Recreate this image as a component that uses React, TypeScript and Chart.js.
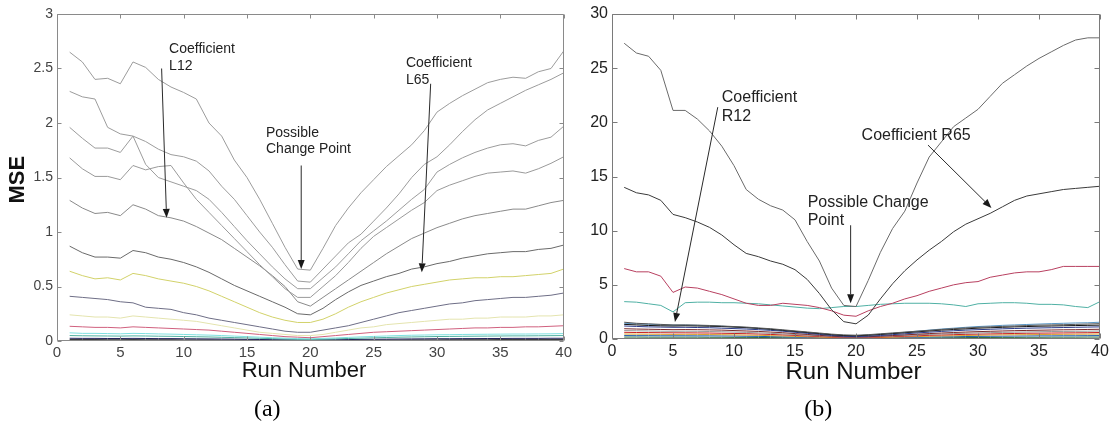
import React, { useEffect, useRef } from "react";
import { Chart, registerables } from "chart.js";

Chart.register(...registerables);

// ---------- categories / ticks ----------
const runNumbers = [1, 2, 3, 4, 5, 6, 7, 8, 9, 10, 11, 12, 13, 14, 15, 16, 17, 18, 19, 20, 21, 22, 23, 24, 25, 26, 27, 28, 29, 30, 31, 32, 33, 34, 35, 36, 37, 38, 39, 40];
const xTickValues = [0, 5, 10, 15, 20, 25, 30, 35, 40];
const leftYTickValues = [0, 0.5, 1, 1.5, 2, 2.5, 3];
const rightYTickValues = [0, 5, 10, 15, 20, 25, 30];

// ---------- panel (a): left coefficients ----------
const leftA = [2.65, 2.56, 2.40, 2.41, 2.36, 2.56, 2.51, 2.40, 2.33, 2.28, 2.22, 2.00, 1.88, 1.66, 1.50, 1.30, 1.08, 0.86, 0.66, 0.65, 0.85, 1.06, 1.22, 1.36, 1.48, 1.60, 1.70, 1.80, 1.93, 2.10, 2.18, 2.25, 2.31, 2.37, 2.40, 2.42, 2.41, 2.47, 2.50, 2.66];
const leftB = [2.29, 2.24, 2.22, 1.96, 1.90, 1.88, 1.83, 1.76, 1.71, 1.69, 1.65, 1.56, 1.42, 1.30, 1.15, 1.00, 0.86, 0.70, 0.55, 0.54, 0.66, 0.78, 0.90, 0.98, 1.10, 1.22, 1.35, 1.50, 1.62, 1.69, 1.80, 1.92, 2.03, 2.12, 2.18, 2.24, 2.30, 2.35, 2.40, 2.46];
const leftC = [1.96, 1.86, 1.77, 1.77, 1.73, 1.88, 1.62, 1.50, 1.46, 1.42, 1.38, 1.30, 1.18, 1.05, 0.92, 0.80, 0.68, 0.57, 0.48, 0.48, 0.58, 0.68, 0.80, 0.92, 1.01, 1.10, 1.20, 1.30, 1.39, 1.55, 1.62, 1.68, 1.73, 1.77, 1.80, 1.81, 1.79, 1.84, 1.87, 1.97];
const leftD = [1.68, 1.58, 1.51, 1.51, 1.48, 1.61, 1.57, 1.60, 1.61, 1.45, 1.30, 1.18, 1.06, 0.94, 0.82, 0.70, 0.59, 0.48, 0.40, 0.40, 0.50, 0.60, 0.72, 0.85, 0.96, 1.04, 1.12, 1.20, 1.27, 1.38, 1.43, 1.47, 1.51, 1.54, 1.55, 1.56, 1.54, 1.58, 1.63, 1.69];
const leftE = [1.29, 1.22, 1.17, 1.18, 1.15, 1.25, 1.21, 1.15, 1.13, 1.10, 1.05, 0.99, 0.93, 0.85, 0.77, 0.69, 0.60, 0.50, 0.36, 0.32, 0.40, 0.48, 0.56, 0.64, 0.72, 0.80, 0.87, 0.94, 0.99, 1.04, 1.08, 1.12, 1.15, 1.17, 1.19, 1.21, 1.21, 1.24, 1.27, 1.29];
const leftF = [0.87, 0.81, 0.77, 0.77, 0.76, 0.83, 0.81, 0.77, 0.75, 0.72, 0.68, 0.63, 0.57, 0.51, 0.46, 0.41, 0.36, 0.31, 0.25, 0.24, 0.30, 0.38, 0.45, 0.51, 0.55, 0.59, 0.62, 0.66, 0.68, 0.71, 0.73, 0.76, 0.78, 0.80, 0.81, 0.82, 0.82, 0.84, 0.85, 0.88];
const leftG = [0.64, 0.60, 0.57, 0.58, 0.56, 0.62, 0.60, 0.57, 0.55, 0.53, 0.50, 0.46, 0.41, 0.36, 0.31, 0.26, 0.22, 0.19, 0.17, 0.17, 0.20, 0.25, 0.31, 0.36, 0.40, 0.44, 0.47, 0.50, 0.52, 0.54, 0.56, 0.57, 0.58, 0.58, 0.59, 0.59, 0.60, 0.61, 0.62, 0.66];
const leftH = [0.41, 0.40, 0.39, 0.38, 0.36, 0.35, 0.31, 0.30, 0.29, 0.26, 0.24, 0.21, 0.19, 0.17, 0.15, 0.13, 0.11, 0.09, 0.08, 0.08, 0.10, 0.12, 0.14, 0.17, 0.20, 0.23, 0.26, 0.28, 0.30, 0.32, 0.34, 0.35, 0.37, 0.38, 0.39, 0.40, 0.40, 0.41, 0.42, 0.44];
const leftI = [0.24, 0.23, 0.22, 0.22, 0.21, 0.23, 0.22, 0.21, 0.20, 0.19, 0.18, 0.16, 0.14, 0.12, 0.10, 0.08, 0.07, 0.06, 0.05, 0.05, 0.06, 0.08, 0.10, 0.12, 0.13, 0.15, 0.16, 0.17, 0.18, 0.19, 0.20, 0.20, 0.21, 0.21, 0.22, 0.22, 0.22, 0.23, 0.23, 0.24];
const leftJ = [0.135, 0.13, 0.125, 0.125, 0.12, 0.13, 0.125, 0.12, 0.115, 0.11, 0.105, 0.10, 0.09, 0.08, 0.07, 0.06, 0.05, 0.04, 0.035, 0.03, 0.04, 0.05, 0.06, 0.07, 0.08, 0.085, 0.09, 0.095, 0.10, 0.105, 0.11, 0.115, 0.12, 0.12, 0.125, 0.125, 0.13, 0.13, 0.135, 0.14];
const leftK = [0.075, 0.07, 0.07, 0.068, 0.066, 0.07, 0.068, 0.065, 0.063, 0.06, 0.057, 0.054, 0.05, 0.045, 0.04, 0.035, 0.03, 0.026, 0.022, 0.02, 0.024, 0.028, 0.033, 0.038, 0.042, 0.046, 0.05, 0.053, 0.055, 0.057, 0.058, 0.06, 0.061, 0.062, 0.063, 0.064, 0.064, 0.065, 0.066, 0.068];
const leftL = [0.05, 0.048, 0.047, 0.046, 0.045, 0.047, 0.046, 0.044, 0.043, 0.041, 0.039, 0.037, 0.034, 0.031, 0.028, 0.025, 0.022, 0.019, 0.016, 0.015, 0.017, 0.02, 0.023, 0.026, 0.029, 0.032, 0.035, 0.037, 0.039, 0.041, 0.042, 0.043, 0.044, 0.045, 0.046, 0.047, 0.047, 0.048, 0.049, 0.05];
const leftM = [0.025, 0.024, 0.024, 0.023, 0.023, 0.024, 0.023, 0.022, 0.022, 0.021, 0.02, 0.019, 0.018, 0.017, 0.015, 0.014, 0.012, 0.011, 0.01, 0.01, 0.011, 0.012, 0.013, 0.015, 0.016, 0.017, 0.018, 0.019, 0.02, 0.021, 0.021, 0.022, 0.022, 0.023, 0.023, 0.024, 0.024, 0.024, 0.025, 0.025];
const leftN = [0.012, 0.012, 0.012, 0.011, 0.011, 0.012, 0.011, 0.011, 0.011, 0.01, 0.01, 0.01, 0.009, 0.009, 0.008, 0.007, 0.006, 0.006, 0.005, 0.005, 0.006, 0.006, 0.007, 0.008, 0.008, 0.009, 0.009, 0.01, 0.01, 0.01, 0.011, 0.011, 0.011, 0.011, 0.012, 0.012, 0.012, 0.012, 0.012, 0.012];

// ---------- panel (b): right coefficients ----------
const rightA = [27.3, 26.4, 26.1, 24.8, 21.1, 21.1, 20.3, 19.2, 17.8, 16.0, 13.8, 12.9, 12.3, 11.9, 11.0, 9.0, 7.2, 4.7, 3.1, 3.0, 5.4, 8.0, 10.2, 11.8, 14.4, 16.8, 18.2, 19.6, 20.4, 21.2, 22.4, 23.6, 24.4, 25.2, 25.9, 26.5, 27.1, 27.6, 27.8, 27.8];
const rightB = [14.0, 13.5, 13.3, 12.8, 11.5, 11.2, 10.8, 10.3, 9.6, 8.7, 7.9, 7.6, 7.2, 6.9, 6.4, 5.5, 4.2, 2.7, 1.6, 1.4, 2.2, 3.7, 5.1, 6.3, 7.3, 8.2, 9.0, 9.9, 10.6, 11.1, 11.6, 12.2, 12.8, 13.2, 13.4, 13.6, 13.8, 13.9, 14.0, 14.1];
const rightC = [6.5, 6.2, 6.2, 5.8, 4.3, 4.8, 4.7, 4.4, 4.1, 3.7, 3.3, 3.1, 3.1, 3.3, 3.2, 3.1, 2.9, 2.6, 2.2, 2.1, 2.6, 3.0, 3.3, 3.7, 4.0, 4.4, 4.7, 5.0, 5.2, 5.3, 5.7, 5.9, 6.1, 6.2, 6.2, 6.4, 6.7, 6.7, 6.7, 6.7];
const rightD = [3.45, 3.4, 3.25, 3.1, 2.5, 3.35, 3.4, 3.4, 3.35, 3.35, 3.3, 3.25, 3.15, 3.05, 2.95, 2.85, 2.8, 2.9, 3.0, 3.0, 3.1, 3.2, 3.25, 3.3, 3.3, 3.3, 3.25, 3.15, 3.0, 3.25, 3.3, 3.35, 3.35, 3.3, 3.2, 3.2, 3.15, 3.0, 2.9, 3.45];
const rightE = [1.55, 1.45, 1.40, 1.35, 1.30, 1.30, 1.28, 1.25, 1.20, 1.15, 1.10, 1.02, 0.95, 0.85, 0.75, 0.65, 0.55, 0.45, 0.38, 0.35, 0.40, 0.48, 0.56, 0.64, 0.72, 0.80, 0.88, 0.95, 1.02, 1.08, 1.12, 1.16, 1.20, 1.24, 1.28, 1.30, 1.32, 1.35, 1.38, 1.42];
const rightF = [1.35, 1.30, 1.25, 1.22, 1.20, 1.22, 1.20, 1.18, 1.15, 1.10, 1.05, 0.98, 0.90, 0.80, 0.70, 0.60, 0.50, 0.40, 0.32, 0.30, 0.35, 0.42, 0.50, 0.58, 0.66, 0.74, 0.82, 0.88, 0.94, 1.00, 1.04, 1.08, 1.12, 1.15, 1.18, 1.20, 1.22, 1.24, 1.26, 1.28];
const rightG = [1.20, 1.16, 1.12, 1.10, 1.08, 1.08, 1.06, 1.04, 1.00, 0.96, 0.92, 0.86, 0.80, 0.72, 0.62, 0.52, 0.42, 0.32, 0.25, 0.22, 0.26, 0.32, 0.40, 0.48, 0.56, 0.63, 0.70, 0.76, 0.82, 0.86, 0.90, 0.94, 0.97, 1.00, 1.02, 1.04, 1.06, 1.08, 1.10, 1.12];
const rightH = [0.95, 0.92, 0.90, 0.88, 0.86, 0.87, 0.86, 0.84, 0.82, 0.78, 0.74, 0.70, 0.64, 0.58, 0.50, 0.42, 0.34, 0.26, 0.20, 0.18, 0.21, 0.26, 0.32, 0.38, 0.44, 0.50, 0.55, 0.60, 0.64, 0.68, 0.71, 0.74, 0.77, 0.79, 0.81, 0.83, 0.85, 0.86, 0.88, 0.90];
const rightI = [0.78, 0.76, 0.74, 0.72, 0.71, 0.72, 0.71, 0.69, 0.67, 0.64, 0.61, 0.57, 0.52, 0.47, 0.41, 0.35, 0.29, 0.23, 0.18, 0.16, 0.19, 0.23, 0.28, 0.33, 0.38, 0.42, 0.46, 0.50, 0.53, 0.56, 0.59, 0.61, 0.63, 0.65, 0.67, 0.69, 0.70, 0.71, 0.72, 0.74];
const rightJ = [0.62, 0.60, 0.59, 0.58, 0.57, 0.57, 0.56, 0.55, 0.53, 0.51, 0.49, 0.46, 0.42, 0.38, 0.33, 0.28, 0.23, 0.18, 0.14, 0.13, 0.15, 0.18, 0.22, 0.26, 0.30, 0.34, 0.37, 0.40, 0.43, 0.45, 0.47, 0.49, 0.51, 0.53, 0.54, 0.55, 0.56, 0.57, 0.58, 0.60];
const rightK = [0.46, 0.45, 0.44, 0.43, 0.42, 0.43, 0.42, 0.41, 0.40, 0.38, 0.36, 0.34, 0.31, 0.28, 0.24, 0.20, 0.17, 0.13, 0.10, 0.09, 0.11, 0.13, 0.16, 0.19, 0.22, 0.25, 0.28, 0.30, 0.32, 0.34, 0.36, 0.38, 0.39, 0.40, 0.41, 0.42, 0.43, 0.44, 0.45, 0.46];
const rightL = [0.32, 0.31, 0.31, 0.30, 0.30, 0.30, 0.29, 0.29, 0.28, 0.27, 0.25, 0.24, 0.22, 0.20, 0.17, 0.15, 0.12, 0.10, 0.08, 0.07, 0.08, 0.10, 0.12, 0.14, 0.16, 0.18, 0.20, 0.21, 0.23, 0.24, 0.25, 0.26, 0.27, 0.28, 0.29, 0.29, 0.30, 0.30, 0.31, 0.32];
const rightM = [0.18, 0.18, 0.17, 0.17, 0.17, 0.17, 0.17, 0.16, 0.16, 0.15, 0.15, 0.14, 0.13, 0.12, 0.10, 0.09, 0.08, 0.06, 0.05, 0.05, 0.05, 0.06, 0.07, 0.08, 0.09, 0.10, 0.11, 0.12, 0.13, 0.14, 0.14, 0.15, 0.15, 0.16, 0.16, 0.17, 0.17, 0.17, 0.18, 0.18];
const rightN = [1.45, 1.40, 1.36, 1.32, 1.28, 1.28, 1.26, 1.22, 1.18, 1.12, 1.06, 0.98, 0.90, 0.80, 0.70, 0.60, 0.50, 0.40, 0.33, 0.30, 0.36, 0.44, 0.52, 0.62, 0.72, 0.82, 0.92, 1.00, 1.08, 1.15, 1.20, 1.26, 1.30, 1.34, 1.38, 1.42, 1.45, 1.48, 1.50, 1.55];

const leftSeries: [number[], string][] = [
  [leftA, "#9c9c9c"], [leftB, "#9c9c9c"], [leftC, "#9c9c9c"], [leftD, "#9a9a9a"],
  [leftE, "#8a8a8a"], [leftF, "#6a6a6a"], [leftG, "#d2d26a"], [leftH, "#6e6e86"],
  [leftI, "#e4e4ae"], [leftJ, "#d0607e"], [leftK, "#7fe0e0"], [leftL, "#50b0a0"],
  [leftM, "#24245e"], [leftN, "#111111"],
];
const rightSeries: [number[], string][] = [
  [rightA, "#6a6a6a"], [rightB, "#3a3a3a"], [rightC, "#b84060"], [rightD, "#4fb0a4"],
  [rightE, "#555555"], [rightF, "#111111"], [rightG, "#2a3a8a"], [rightH, "#7a2a2a"],
  [rightI, "#999999"], [rightJ, "#c82020"], [rightK, "#d8a030"], [rightL, "#2060b0"],
  [rightM, "#2a6a3a"], [rightN, "#5a96c4"],
];

const framePlugin = {
  id: "matlabFrame",
  afterDraw(chart: any, _args: any, opts: any) {
    const { ctx, chartArea: a, scales } = chart;
    const xs = scales.x;
    const ys = scales.y;
    ctx.save();
    const L = Math.round(a.left) + 0.5;
    const R = Math.round(a.right) - 0.5;
    const T = Math.round(a.top) + 0.5;
    const B = Math.round(a.bottom) - 0.5;
    ctx.strokeStyle = opts.frameColor;
    ctx.lineWidth = 1;
    ctx.beginPath();
    ctx.rect(L, T, R - L, B - T);
    for (const t of opts.xTicks) {
      const px = Math.round(xs.getPixelForValue(t)) + 0.5;
      ctx.moveTo(px, B); ctx.lineTo(px, B - opts.tickLen);
      ctx.moveTo(px, T); ctx.lineTo(px, T + opts.tickLen);
    }
    for (const t of opts.yTicks) {
      const py = Math.round(ys.getPixelForValue(t)) + 0.5;
      ctx.moveTo(L, py); ctx.lineTo(L + opts.tickLen, py);
      ctx.moveTo(R, py); ctx.lineTo(R - opts.tickLen, py);
    }
    ctx.stroke();

    // arrows
    ctx.strokeStyle = "#2a2a2a";
    ctx.fillStyle = "#1a1a1a";
    for (const ar of opts.arrows) {
      const x1 = xs.getPixelForValue(ar.x1), y1 = ys.getPixelForValue(ar.y1);
      const x2 = xs.getPixelForValue(ar.x2), y2 = ys.getPixelForValue(ar.y2);
      const ang = Math.atan2(y2 - y1, x2 - x1);
      const hl = 9, hw = 3.5;
      const bx = x2 - hl * Math.cos(ang), by = y2 - hl * Math.sin(ang);
      ctx.beginPath(); ctx.moveTo(x1, y1); ctx.lineTo(bx, by); ctx.stroke();
      ctx.beginPath();
      ctx.moveTo(x2, y2);
      ctx.lineTo(bx + hw * Math.sin(ang), by - hw * Math.cos(ang));
      ctx.lineTo(bx - hw * Math.sin(ang), by + hw * Math.cos(ang));
      ctx.closePath(); ctx.fill();
    }
    // annotation texts
    ctx.fillStyle = "#222";
    ctx.textAlign = "left";
    ctx.textBaseline = "middle";
    for (const tx of opts.texts) {
      ctx.font = tx.font;
      const px = xs.getPixelForValue(tx.x), py = ys.getPixelForValue(tx.y);
      tx.lines.forEach((s: string, i: number) => ctx.fillText(s, px, py + i * tx.lh));
    }
    // x title and panel letter
    ctx.textAlign = "center";
    ctx.fillStyle = "#111";
    ctx.font = opts.xTitleFont;
    ctx.fillText(opts.xTitle, xs.getPixelForValue(opts.xTitleAt), a.bottom + opts.xTitleDy);
    ctx.font = opts.panelFont;
    ctx.fillStyle = "#000";
    ctx.fillText(opts.panel, xs.getPixelForValue(opts.panelAt), a.bottom + opts.panelDy);
    if (opts.yTitle) {
      ctx.save();
      ctx.font = opts.yTitleFont;
      ctx.fillStyle = "#111";
      ctx.textBaseline = "middle";
      ctx.translate(a.left - opts.yTitleDx, ys.getPixelForValue(opts.yTitleAt));
      ctx.rotate(-Math.PI / 2);
      ctx.fillText(opts.yTitle, 0, 0);
      ctx.restore();
    }
    ctx.restore();
  },
};

function makeConfig(series: [number[], string][], yTicks: number[], yMax: number, yWidth: number, padding: any, tickFont: number, tickColor: string, pluginOpts: any) {
  return {
    type: "line" as const,
    data: {
      datasets: series.map(([vals, color]) => ({
        data: runNumbers.map((r, i) => ({ x: r, y: vals[i] })),
        borderColor: color,
        borderWidth: 1,
        pointRadius: 0,
        tension: 0,
        fill: false,
      })),
    },
    options: {
      responsive: false,
      animation: false as const,
      layout: { padding },
      plugins: { legend: { display: false }, tooltip: { enabled: false }, matlabFrame: pluginOpts },
      scales: {
        x: {
          type: "linear" as const,
          min: 0,
          max: 40,
          grid: { display: false, drawTicks: false },
          border: { display: false },
          afterBuildTicks: (s: any) => { s.ticks = xTickValues.map((v) => ({ value: v })); },
          afterFit: (s: any) => { s.height = 30; },
          ticks: { color: tickColor, font: { family: "Liberation Sans, Arial", size: tickFont + (pluginOpts.xTickExtra || 0) }, padding: 3, maxRotation: 0, autoSkip: false, callback: (v: any) => String(v) },
        },
        y: {
          type: "linear" as const,
          min: 0,
          max: yMax,
          grid: { display: false, drawTicks: false },
          border: { display: false },
          afterBuildTicks: (s: any) => { s.ticks = yTicks.map((v) => ({ value: v })); },
          afterFit: (s: any) => { s.width = yWidth; },
          ticks: { color: tickColor, font: { family: "Liberation Sans, Arial", size: tickFont }, padding: 4, autoSkip: false, callback: (v: any) => String(v) },
        },
      },
    },
    plugins: [framePlugin],
  };
}

export default function App() {
  const leftRef = useRef<HTMLCanvasElement>(null);
  const rightRef = useRef<HTMLCanvasElement>(null);

  useEffect(() => {
    const left = new Chart(
      leftRef.current as HTMLCanvasElement,
      makeConfig(leftSeries, leftYTickValues, 3, 57, { left: 0, top: 14, right: 9, bottom: 60 }, 14, "#444", {
        frameColor: "#8a8a8a",
        tickLen: 4,
        xTicks: xTickValues,
        yTicks: leftYTickValues,
        xTickExtra: 1,
        arrows: [
          { x1: 8.26, y1: 2.50, x2: 8.65, y2: 1.13 },
          { x1: 19.28, y1: 1.61, x2: 19.28, y2: 0.66 },
          { x1: 29.5, y1: 2.36, x2: 28.8, y2: 0.63 },
        ],
        texts: [
          { x: 8.85, y: 2.68, lines: ["Coefficient", "L12"], lh: 17, font: "14px 'Liberation Sans', Arial" },
          { x: 16.5, y: 1.91, lines: ["Possible", "Change Point"], lh: 16, font: "14px 'Liberation Sans', Arial" },
          { x: 27.55, y: 2.55, lines: ["Coefficient", "L65"], lh: 17, font: "14px 'Liberation Sans', Arial" },
        ],
        xTitle: "Run Number",
        xTitleAt: 19.5,
        xTitleDy: 30,
        xTitleFont: "22px 'Liberation Sans', Arial",
        panel: "(a)",
        panelAt: 16.6,
        panelDy: 69,
        panelFont: "24px 'Liberation Serif', 'Times New Roman', serif",
        yTitle: "MSE",
        yTitleAt: 1.48,
        yTitleDx: 39,
        yTitleFont: "bold 22px 'Liberation Sans', Arial",
      }) as any
    );
    const right = new Chart(
      rightRef.current as HTMLCanvasElement,
      makeConfig(rightSeries, rightYTickValues, 30, 37, { left: 0, top: 14, right: 12, bottom: 62 }, 16, "#222", {
        frameColor: "#7a7a7a",
        tickLen: 5,
        xTicks: xTickValues,
        yTicks: rightYTickValues,
        xTickExtra: 0,
        arrows: [
          { x1: 8.67, y1: 21.4, x2: 5.16, y2: 1.57 },
          { x1: 25.9, y1: 17.9, x2: 31.1, y2: 12.1 },
          { x1: 19.56, y1: 10.5, x2: 19.56, y2: 3.3 },
        ],
        texts: [
          { x: 9.0, y: 22.25, lines: ["Coefficient", "R12"], lh: 19, font: "16px 'Liberation Sans', Arial" },
          { x: 20.46, y: 18.74, lines: ["Coefficient R65"], lh: 19, font: "16px 'Liberation Sans', Arial" },
          { x: 16.04, y: 12.56, lines: ["Possible Change", "Point"], lh: 18, font: "16px 'Liberation Sans', Arial" },
        ],
        xTitle: "Run Number",
        xTitleAt: 19.8,
        xTitleDy: 33,
        xTitleFont: "24px 'Liberation Sans', Arial",
        panel: "(b)",
        panelAt: 16.9,
        panelDy: 71,
        panelFont: "24px 'Liberation Serif', 'Times New Roman', serif",
      }) as any
    );
    return () => {
      left.destroy();
      right.destroy();
    };
  }, []);

  return (
    <div style={{ position: "absolute", left: 0, top: 0, width: 1112, height: 431, background: "#fff", overflow: "hidden" }}>
      <canvas ref={leftRef} width={575} height={431} style={{ position: "absolute", left: 0, top: 0, width: 575, height: 431 }} />
      <canvas ref={rightRef} width={537} height={431} style={{ position: "absolute", left: 575, top: 0, width: 537, height: 431 }} />
    </div>
  );
}
